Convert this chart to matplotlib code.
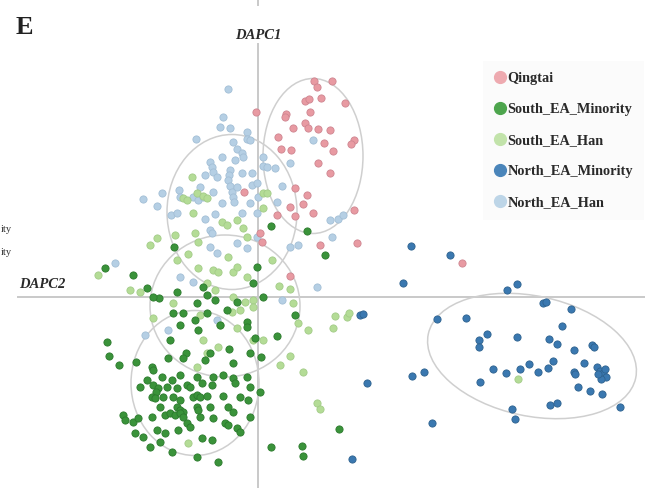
import matplotlib.pyplot as plt
from matplotlib.patches import Ellipse
from matplotlib.lines import Line2D

# DAPC scores (x = DAPC2, y = DAPC1)
qt_x = [5.6, 5.9, 7.4, 4.7, 5.1, 8.7, 2.8, 5.2, -0.2, 3.5, 4.7, 5.0, 6.0, 7.2, 2.0, 6.6, 9.6, 9.3,
        2.3, 3.3, 7.5, 6.0, 7.2, 3.7, 4.9, 4.5, 3.2, 1.9, 3.7, 5.5, 9.6, 0.4, 6.2, 9.9, -1.4, 0.2,
        3.2, 20.4, 2.7, 6.3]
qt_y = [21.6, 21.0, 21.6, 19.6, 19.8, 19.4, 18.3, 18.5, 18.5, 16.9, 17.4, 16.9, 16.8, 16.7, 16.0,
        15.4, 15.7, 15.3, 14.8, 14.7, 14.6, 13.4, 12.4, 10.9, 10.2, 9.3, 9.0, 8.2, 8.1, 8.4, 8.7,
        5.5, 5.2, 5.4, 10.5, 6.4, 2.1, 3.4, 18.0, 19.9]

neh_x = [-3.0, -3.5, -3.8, -2.8, -6.2, -1.1, -1.1, -2.5, -2.1, -1.6, -1.5, -3.6, -2.3, -4.8, -4.6,
         -4.5, -2.8, -2.9, -3.0, -2.8, -2.6, -2.5, -2.4, -5.3, -4.1, -1.6, -0.6, 0.5, -5.8, -4.5,
         -2.1, -0.6, -7.9, -9.6, -10.1, -7.8, -6.5, -6.0, -5.5, -3.6, -1.6, -0.8, 0.0, -8.7, -5.3,
         -4.3, -4.8, -4.6, -2.1, -4.8, -4.1, -1.1, -0.1, 5.5, 3.2, 0.5, 0.9, 1.7, 2.4, -0.1, 1.9,
         -0.1, 7.2, 8.0, 8.5, 7.4, 3.2, 4.0, -0.8, -14.3, -7.8, -6.5, -9.0, -11.3, -4.1, 5.9, 2.4,
         -8.1, -11.5]
neh_y = [20.8, 18.0, 17.0, 16.9, 15.8, 16.5, 15.8, 15.5, 14.8, 14.4, 14.0, 14.0, 13.7, 13.5, 13.0,
         12.5, 12.7, 12.2, 11.7, 11.1, 10.5, 10.0, 9.5, 12.2, 12.0, 12.4, 12.4, 13.1, 11.0, 10.5,
         11.0, 11.2, 10.7, 10.4, 9.1, 10.0, 10.0, 9.7, 10.0, 9.4, 8.4, 9.4, 10.0, 8.2, 7.8,
         8.3, 6.7, 6.4, 5.4, 5.0, 4.4, 4.9, 6.0, 15.7, 13.4, 14.0, 13.0, 12.9, 11.1, 11.4, 9.5,
         8.4, 7.7, 7.8, 8.2, 6.0, 5.0, 5.2, 15.7, 3.4, 2.0, 1.5, -3.3, -3.8, -2.3, 1.0, -0.3,
         8.4, 9.8]

nem_x = [19.2, 24.9, 25.9, 28.5, 28.8, 31.3, 17.9, 20.8, 22.9, 22.1, 22.1, 25.9, 30.4, 29.1, 29.9,
         31.6, 33.4, 33.6, 32.6, 29.5, 29.0, 27.1, 26.2, 28.0, 24.8, 23.5, 22.2, 31.6, 31.7, 33.9,
         34.2, 34.5, 34.8, 34.3, 34.0, 34.7, 32.0, 33.2, 34.4, 36.2, 29.2, 29.9, 25.4, 25.7, 17.4,
         16.6, 14.5, 10.2, 10.5, 10.9, 15.4, 9.4, 15.3]
nem_y = [4.2, 0.7, 1.3, -0.6, -0.5, -1.2, -2.2, -2.1, -3.7, -4.3, -5.0, -4.0, -2.9, -4.2, -4.7,
         -5.3, -4.8, -5.0, -6.6, -6.4, -7.1, -6.7, -7.2, -7.5, -7.6, -7.2, -8.5, -7.5, -7.7, -7.0,
         -7.4, -7.6, -8.0, -8.2, -7.7, -7.2, -9.0, -9.4, -9.7, -11.0, -10.8, -10.6, -11.2, -12.2, -12.6,
         -7.5, 1.4, -1.8, -1.7, -8.6, -7.9, -16.2, 5.1]

sem_x = [-15.3, -12.5, -11.1, -9.9, -8.1, -5.5, -5.1, -4.3, -6.1, -3.1, -2.1, -0.5, -8.5, -7.5, -6.3,
         -5.1, -7.8, -6.0, -3.8, -1.1, -1.1, -15.1, -14.9, -13.9, -12.2, -8.8, -7.2, -7.5, -9.0, -4.8,
         -5.3, -2.9, -2.5, -0.3, -0.8, -10.6, -10.5, -11.1, -9.6, -8.6, -7.8, -6.1, -4.5, -3.5, -2.5,
         -1.1, -11.8, -10.5, -10.0, -10.2, -9.1, -8.1, -7.1, -6.8, -5.6, -4.6, -2.3, -0.8, -10.6, -10.3,
         -9.5, -8.5, -7.8, -6.5, -6.1, -5.8, -5.1, -3.5, -1.8, -9.8, -8.1, -7.8, -7.5, -6.1, -6.0,
         -4.8, -3.0, -2.5, -1.0, -13.5, -13.3, -12.5, -12.0, -10.6, -9.3, -8.8, -8.3, -7.8, -7.5, -7.1,
         -6.8, -5.8, -4.5, -3.3, -3.0, -2.1, -1.8, -0.8, -12.3, -11.5, -10.1, -9.3, -8.0, -10.8, -9.8,
         -8.6, -6.1, -5.6, -4.6, -4.0, 6.7, 3.7, 1.9, 0.5, 8.1, 4.4, 4.5, 1.3, 1.3, 4.9, -8.4, -10.5,
         -0.1, 0.3, 0.2]
sem_y = [2.9, 2.2, 0.9, -0.1, 0.5, 1.0, 0.2, -0.3, -0.6, -1.3, -0.5, 1.4, -1.6, -1.6, -2.3,
         -1.6, -2.8, -3.3, -2.8, -2.5, -3.0, -4.5, -5.9, -6.8, -6.5, -4.3, -5.6, -6.1, -6.1, -5.6,
         -6.3, -5.2, -6.6, -4.1, -5.6, -7.0, -7.3, -8.3, -8.0, -8.3, -7.8, -8.0, -8.0, -7.8, -8.1,
         -8.0, -9.0, -8.8, -9.1, -9.5, -9.0, -9.1, -8.8, -9.0, -8.6, -8.8, -8.6, -9.0, -10.0, -10.1,
         -10.0, -10.0, -10.3, -10.0, -9.8, -10.0, -9.9, -9.9, -10.0, -11.0, -11.0, -11.3, -11.5, -11.0, -11.3,
         -11.0, -11.0, -11.5, -10.3, -11.8, -12.3, -12.5, -12.1, -12.0, -11.8, -11.6, -11.8, -11.6, -12.0, -12.6,
         -13.0, -12.0, -12.1, -12.6, -12.8, -13.1, -13.5, -12.0, -13.6, -14.0, -13.3, -13.6, -13.3, -15.0, -14.5,
         -15.5, -16.0, -14.1, -14.3, -16.5, 4.2, -1.8, -3.9, 0.0, -13.2, -14.9, -15.9, -15.0, 7.1, 6.6, 5.0, 0.0,
         3.0, -6.0, -9.5]

seh_x = [26.0, 7.7, 8.9, 7.5, 5.0, 4.5, 5.9, 6.2, 3.2, 2.2, 4.0, 3.5, 3.2, 2.1, 1.4, -6.6, -6.1,
         -5.5, -5.1, -7.5, -7.1, -3.6, -3.1, -2.1, -6.3, -6.0, -10.8, -10.1, -1.5, -1.1, 0.5, -6.5,
         -8.3, 0.9, 0.5, -16.0, -12.8, -11.8, -10.5, -8.5, -8.1, -6.0, -4.5, -4.0, -2.5, -2.1, -1.1,
         -5.1, -4.3, -2.5, -1.3, -0.5, -2.6, -1.8, -0.5, -5.8, -3.8, -2.1, -5.5, -5.1, -0.5, 0.5,
         -4.0, -6.1, -7.0, 9.1, -3.0, -7.0]
seh_y = [-8.2, -1.9, -2.0, -3.1, -3.3, -7.5, -10.6, -11.2, -5.9, -6.8, -2.6, -0.6, 0.8, 1.1, 3.7,
         12.0, 10.4, 10.1, 9.9, 9.9, 9.7, 7.5, 7.2, 7.7, 6.4, 5.5, 5.2, 5.9, 6.9, 6.0, 10.4, 8.4,
         6.2, 10.4, 8.9, 2.2, 0.7, 0.5, -2.1, -0.6, 3.7, 2.9, 2.7, 2.5, 2.5, 3.0, 2.0, 1.4, 0.7,
         0.0, -0.5, -0.3, -1.5, -1.3, -1.0, -1.8, -2.8, -3.1, -4.3, -5.6, -4.3, -4.3, -5.0, -7.0,
         -14.6, -1.6, 4.0, 4.3]

# 95% inertia ellipses: centre x, centre y, width, height, angle
ell_qt = (5.5, 14.1, 10.0, 15.5, 0)
ell_neh = (-2.6, 8.5, 13.0, 15.5, 0)
ell_seh = (-3.3, -0.9, 15.0, 14.2, 0)
ell_sem = (-6.3, -8.6, 12.8, 14.5, 0)
ell_nem = (27.4, -5.9, 21.2, 12.0, -12)

groups = ["Qingtai", "South_EA_Minority", "South_EA_Han", "North_EA_Minority", "North_EA_Han"]

fig = plt.figure(figsize=(6.45, 4.88), dpi=100)
ax = fig.add_axes([0, 0, 1, 1])
ax.set_xlim(-25.8, 38.7)
ax.set_ylim(-19.1, 29.7)
ax.axis("off")

# axes through the origin
axcol = "#c9c9c9"
ax.plot([-24.0, 38.7], [0, 0], color=axcol, lw=1.4, zorder=1)
ax.plot([0, 0], [-19.1, 25.3], color=axcol, lw=1.4, zorder=1)
ax.plot([0, 0], [29.2, 29.7], color=axcol, lw=1.4, zorder=1)

colors = {"Qingtai": "#e89aa2", "South_EA_Minority": "#3a933a", "South_EA_Han": "#b4dc96",
          "North_EA_Minority": "#3a78b0", "North_EA_Han": "#b5cfe4"}
edges = {"Qingtai": "#cf8590", "South_EA_Minority": "#2c7a2d", "South_EA_Han": "#a3cc88",
         "North_EA_Minority": "#2e628f", "North_EA_Han": "#a3bfd6"}

kw = dict(s=27, linewidths=0.6, zorder=3)
ax.scatter(neh_x, neh_y, c=colors["North_EA_Han"], edgecolors=edges["North_EA_Han"], **kw)
ax.scatter(seh_x, seh_y, c=colors["South_EA_Han"], edgecolors=edges["South_EA_Han"], **kw)
ax.scatter(qt_x, qt_y, c=colors["Qingtai"], edgecolors=edges["Qingtai"], **kw)
ax.scatter(sem_x, sem_y, c=colors["South_EA_Minority"], edgecolors=edges["South_EA_Minority"], **kw)
ax.scatter(nem_x, nem_y, c=colors["North_EA_Minority"], edgecolors=edges["North_EA_Minority"], **kw)

for cx, cy, w, h, a in [ell_qt, ell_neh, ell_seh, ell_sem, ell_nem]:
    ax.add_patch(Ellipse((cx, cy), w, h, angle=a, fill=False, ec="#cfcfcf", lw=1.1, zorder=2))

serif = ["Liberation Serif", "DejaVu Serif"]
ax.text(0, 25.5, "DAPC1", ha="center", va="bottom", fontsize=10.5, family=serif,
        style="italic", weight="bold", color="#2a2a2a")
ax.text(-23.9, 0.6, "DAPC2", ha="left", va="bottom", fontsize=10.5, family=serif,
        style="italic", weight="bold", color="#2a2a2a")
ax.text(-24.2, 26.3, "E", ha="left", va="baseline", fontsize=19, family=serif,
        weight="bold", color="#222222")
ax.text(-25.75, 6.7, "ity", ha="left", va="center", fontsize=7.5, family=serif, color="#333333")
ax.text(-25.75, 4.4, "ity", ha="left", va="center", fontsize=7.5, family=serif, color="#333333")

leg_cols = ["#eeaab0", "#4da54d", "#c2e3aa", "#4a85ba", "#bdd5e7"]
handles = [Line2D([], [], ls="none", marker="o", markersize=8.5, mfc=c, mec=c) for c in leg_cols]
leg = ax.legend(handles, groups, loc="upper left", bbox_to_anchor=(0.738, 0.89),
                frameon=True, fancybox=False, handlelength=0.75, handletextpad=0.15,
                labelspacing=1.25, borderpad=0.8,
                prop={"family": serif, "weight": "bold", "size": 10.3})
leg.get_frame().set_facecolor("#fafafa")
leg.get_frame().set_edgecolor("none")
for t in leg.get_texts():
    t.set_color("#2a2a2a")

fig.savefig("out.png", dpi=100)
